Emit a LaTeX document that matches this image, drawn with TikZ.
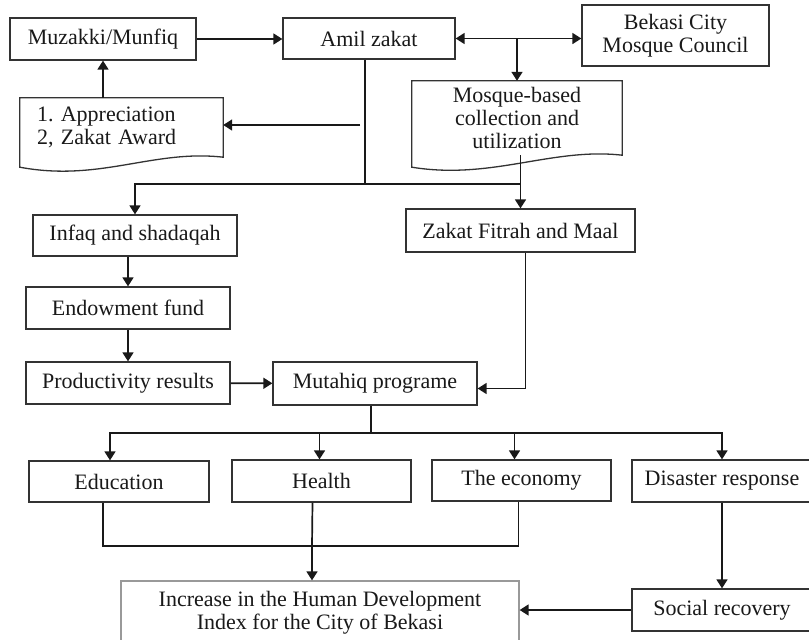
\documentclass[tikz,border=0pt]{standalone}
\usepackage{fontspec}
\setmainfont{Liberation Serif}
\usepackage{tikz}
\usetikzlibrary{arrows.meta}

\tikzset{
  box/.style={rectangle, draw=black!80, line width=1.3pt, inner sep=0pt,
    font=\fontsize{22}{23}\selectfont, text=black!90, align=center},
  docbox/.style={rectangle, inner sep=0pt,
    font=\fontsize{22}{23}\selectfont, text=black!90},
  ln/.style={line width=1.7pt, draw=black!90},
  arr/.style={ln, -{Triangle[length=9pt,width=11pt]}},
  arrtwo/.style={ln, {Triangle[length=9pt,width=11pt]}-{Triangle[length=9pt,width=11pt]}}
}

\begin{document}
\frenchspacing
\begin{tikzpicture}[x=1pt, y=-1pt]
    \useasboundingbox[fill=white] (0,0) rectangle (809,640);

    \node[box, minimum width=186pt, minimum height=42pt] (a) at (103, 39) {Muzakki/Munfiq};
    \node[box, minimum width=172pt, minimum height=41pt] (b) at (369, 38.5) {Amil zakat};
    \node[box, minimum width=187pt, minimum height=61pt] (c) at (675.5, 35.5) {Bekasi City\\Mosque Council};
    \node[docbox, align=center, minimum width=210pt, minimum height=74pt] (d) at (517, 118) {Mosque-based\\collection and\\utilization};
    \node[docbox, align=left, text width=169pt, minimum width=203pt, minimum height=59pt] (e) at (121.5, 127.5) {1. Appreciation\\2, Zakat Award};
    \node[box, minimum width=204pt, minimum height=41pt] (f) at (135, 235.5) {Infaq and shadaqah};
    \node[box, minimum width=229pt, minimum height=43pt] (g) at (520.5, 230.5) {Zakat Fitrah and Maal};
    \node[box, minimum width=204pt, minimum height=42pt] (h) at (128, 308) {Endowment fund};
    \node[box, minimum width=204pt, minimum height=42pt] (i) at (128, 383) {Productivity results};
    \node[box, minimum width=204pt, minimum height=43pt] (k) at (375, 383.5) {Mutahiq programe};
    \node[box, minimum width=180pt, minimum height=41pt] (l) at (119, 481.5) {Education};
    \node[box, minimum width=179pt, minimum height=42pt] (m) at (321.5, 481) {Health};
    \node[box, minimum width=179pt, minimum height=41pt] (n) at (521.5, 480.5) {The economy};
    \node[box, minimum width=180pt, minimum height=42pt] (o) at (722, 481) {Disaster response};
    \node[box, minimum width=180pt, minimum height=42pt] (p) at (722, 610) {Social recovery};
    \node[box, draw=black!40, minimum width=398pt, minimum height=64pt] (q) at (320, 613) {Increase in the Human Development\\Index for the City of Bekasi};

    % wavy document outlines
    \draw[line width=1.3pt, draw=black!80] (d.north west) -- (d.north east) -- (d.south east)
        .. controls ([xshift=-70pt, yshift=8pt]d.south east) and ([xshift=80pt, yshift=-25pt]d.south west)
        .. ([yshift=-12pt]d.south west) -- cycle;
    \draw[line width=1.3pt, draw=black!80] (e.north west) -- (e.north east) -- (e.south east)
        .. controls ([xshift=-70pt, yshift=8pt]e.south east) and ([xshift=80pt, yshift=-25pt]e.south west)
        .. ([yshift=-10pt]e.south west) -- cycle;

    \coordinate (r) at (360, 125);
    \coordinate (s) at (365, 184);
    \coordinate (t) at (371, 433);
    \coordinate (u) at (312, 546);

    \draw[arr] (a.east) -- (a.east -| b.west);
    \draw[arrtwo] (b.east) -- (b.east -| c.west);
    \draw[arr] (d.north |- b.east) -- (d.north);
    \draw[arr] (e.north -| a.south) -- (a.south);
    \draw[ln] (b.south -| s) -- (s);
    \draw[arr] (r) -- (r -| e.east);
    \draw[arr] (s) -| (f.north);
    \draw[ln] (s) -- (s -| g.north);
    \draw[arr] (g.north |- d.south) -- (g.north);
    \draw[arr] (h.north |- f.south) -- (h.north);
    \draw[arr] (h) -- (i);
    \draw[arr] (i) -- (k);
    \draw[arr] ([xshift=5pt]g.south) |- ([yshift=-5pt]k.east);
    \draw[ln] (k.south -| t) -- (t);
    \draw[arr] (t) -| ([xshift=-9pt]l.north);
    \draw[arr] (t) -| ([xshift=-2pt]m.north);
    \draw[arr] (t) -| ([xshift=-7pt]n.north);
    \draw[arr] (t) -| (o.north);
    \draw[ln] ([xshift=-16pt]l.south) |- ([xshift=-3pt]n.south |- u) -- ([xshift=-3pt]n.south);
    \draw[ln] ([xshift=-9pt]m.south) -- (u);
    \draw[arr] (u) -- (u |- q.north);
    \draw[arr] (o) -- (p);
    \draw[arr] (p.west) -- (p.west -| q.east);
\end{tikzpicture}
\end{document}
